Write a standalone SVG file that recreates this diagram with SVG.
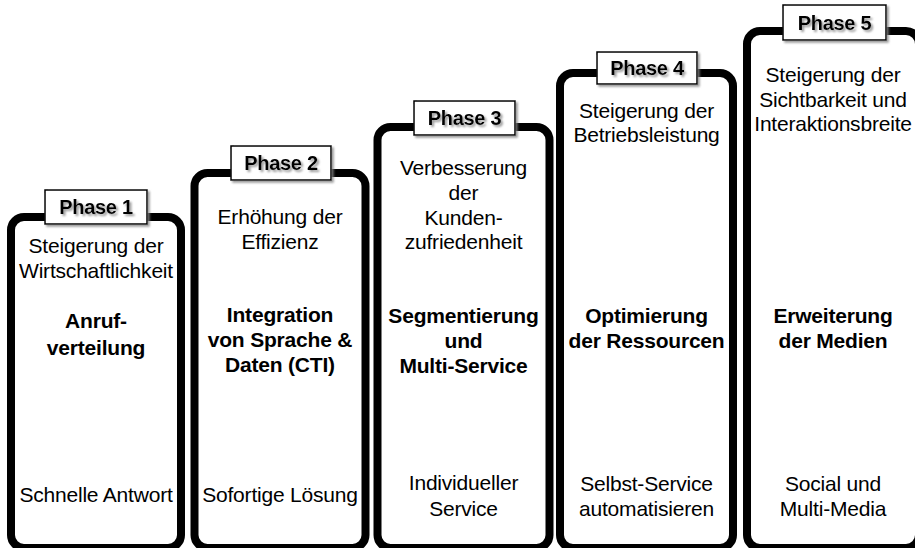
<svg xmlns="http://www.w3.org/2000/svg" width="915" height="548" viewBox="0 0 915 548">
<defs>
<filter id="sh" x="-20%" y="-20%" width="150%" height="160%">
<feDropShadow dx="2" dy="2" stdDeviation="1.2" flood-color="#808080" flood-opacity="0.8"/>
</filter>
<style>
.box{fill:#fff;stroke:#000;stroke-width:8}
.lab{fill:#fff;stroke:#000;stroke-width:1.5}
.pt{font-family:"Liberation Sans",Arial,sans-serif;font-weight:bold;font-size:20px;letter-spacing:-0.3px;text-anchor:middle;fill:#000}
.t{font-family:"Liberation Sans",Arial,sans-serif;font-size:21px;letter-spacing:-0.2px;text-anchor:middle;fill:#000}
.b{font-family:"Liberation Sans",Arial,sans-serif;font-size:21px;letter-spacing:-0.2px;font-weight:bold;text-anchor:middle;fill:#000}
</style>
</defs>
<rect width="915" height="548" fill="#fff"/>
<g id="connectors"></g>
<g id="phase1">
<rect class="box" x="11" y="217" width="170" height="331" rx="13"/>
<rect class="lab" x="45" y="190" width="102" height="34" filter="url(#sh)"/>
<text class="pt" x="96" y="214" filter="url(#sh)">Phase 1</text>
<text class="t" x="96" y="253">Steigerung der</text>
<text class="t" x="96" y="278">Wirtschaftlichkeit</text>
<text class="b" x="96" y="328">Anruf-</text>
<text class="b" x="96" y="355">verteilung</text>
<text class="t" x="96" y="502">Schnelle Antwort</text>
</g>
<g id="phase2">
<rect class="box" x="194.5" y="173" width="171" height="375" rx="13"/>
<rect class="lab" x="231" y="146" width="100" height="34" filter="url(#sh)"/>
<text class="pt" x="281" y="170" filter="url(#sh)">Phase 2</text>
<text class="t" x="280" y="224">Erhöhung der</text>
<text class="t" x="280" y="249">Effizienz</text>
<text class="b" x="280" y="322">Integration</text>
<text class="b" x="280" y="347">von Sprache &amp;</text>
<text class="b" x="280" y="372">Daten (CTI)</text>
<text class="t" x="280" y="502">Sofortige Lösung</text>
</g>
<g id="phase3">
<rect class="box" x="377.5" y="127" width="172" height="421" rx="13"/>
<rect class="lab" x="414" y="101" width="101" height="34" filter="url(#sh)"/>
<text class="pt" x="464.5" y="125" filter="url(#sh)">Phase 3</text>
<text class="t" x="463.5" y="175">Verbesserung</text>
<text class="t" x="463.5" y="200">der</text>
<text class="t" x="463.5" y="225">Kunden-</text>
<text class="t" x="463.5" y="249">zufriedenheit</text>
<text class="b" x="463.5" y="323">Segmentierung</text>
<text class="b" x="463.5" y="348">und</text>
<text class="b" x="463.5" y="373">Multi-Service</text>
<text class="t" x="463.5" y="490">Individueller</text>
<text class="t" x="463.5" y="516">Service</text>
</g>
<g id="phase4">
<rect class="box" x="560" y="73" width="173" height="475" rx="13"/>
<rect class="lab" x="597" y="52" width="100" height="32" filter="url(#sh)"/>
<text class="pt" x="647" y="75" filter="url(#sh)">Phase 4</text>
<text class="t" x="646.5" y="118">Steigerung der</text>
<text class="t" x="646.5" y="142">Betriebsleistung</text>
<text class="b" x="646.5" y="323">Optimierung</text>
<text class="b" x="646.5" y="348">der Ressourcen</text>
<text class="t" x="646.5" y="491">Selbst-Service</text>
<text class="t" x="646.5" y="516">automatisieren</text>
</g>
<g id="phase5">
<rect class="box" x="747" y="31" width="172" height="517" rx="13"/>
<rect class="lab" x="783" y="5" width="103" height="35" filter="url(#sh)"/>
<text class="pt" x="834.5" y="30" filter="url(#sh)">Phase 5</text>
<text class="t" x="833" y="82">Steigerung der</text>
<text class="t" x="833" y="107">Sichtbarkeit und</text>
<text class="t" x="833" y="131">Interaktionsbreite</text>
<text class="b" x="833" y="323">Erweiterung</text>
<text class="b" x="833" y="348">der Medien</text>
<text class="t" x="833" y="491">Social und</text>
<text class="t" x="833" y="516">Multi-Media</text>
</g>
</svg>
